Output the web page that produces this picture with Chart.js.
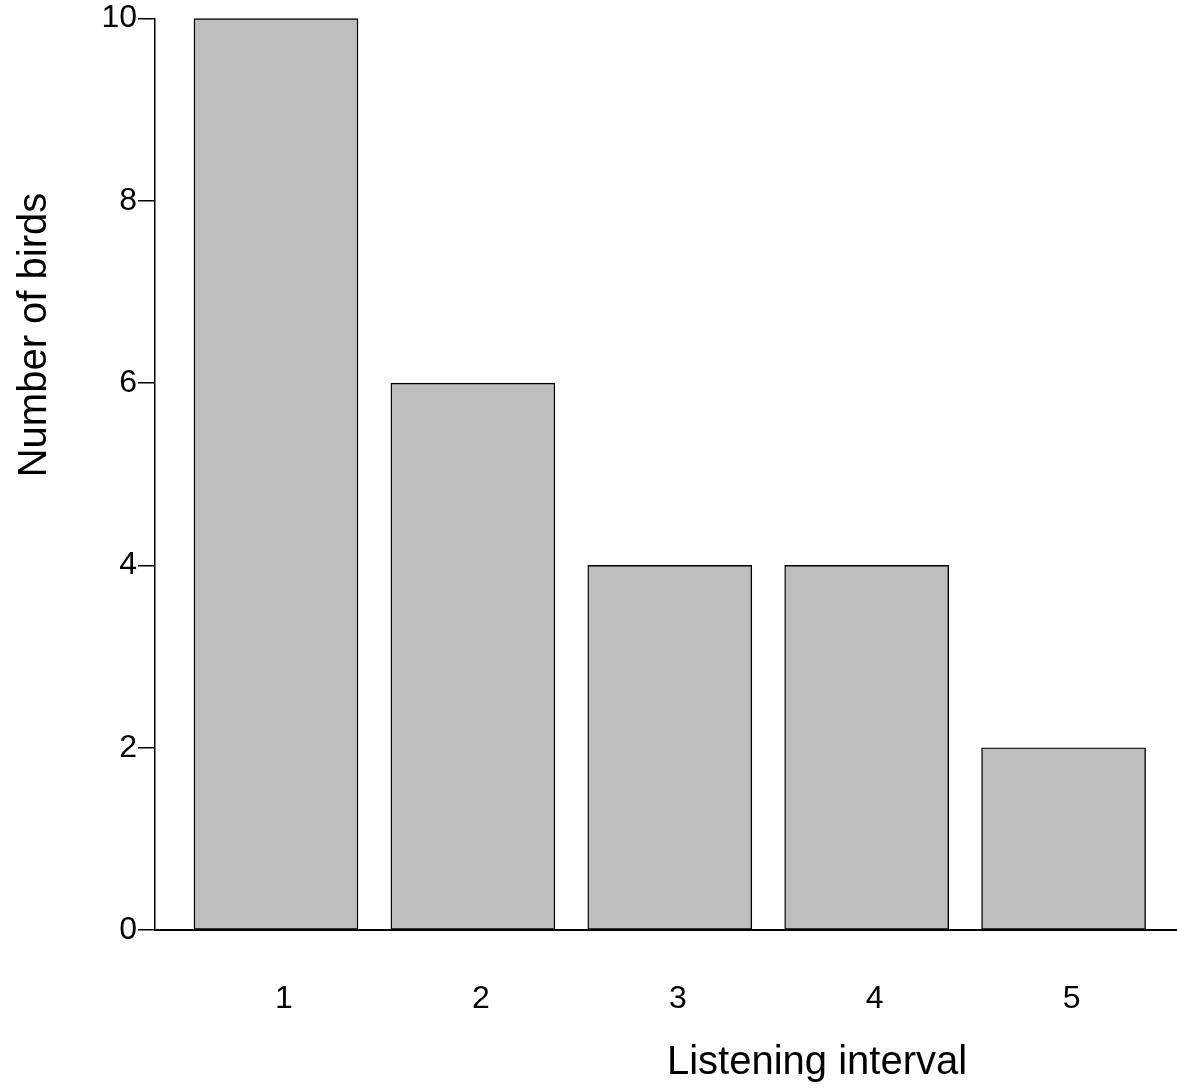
<!DOCTYPE html>
<html>
<head>
<meta charset="utf-8">
<script src="https://cdn.jsdelivr.net/npm/chart.js@4/dist/chart.umd.min.js"></script>
<style>
  body { margin: 0; background: #fff; }
  #wrap { position: relative; width: 1177px; height: 1088px; }
</style>
</head>
<body>
<div id="wrap"><canvas id="grafico" width="1177" height="1088"></canvas></div>
<script>
// datos
const intervals = [1, 2, 3, 4, 5];
const birds = [10, 6, 4, 4, 2];
const yTicks = [0, 2, 4, 6, 8, 10];
const xTitle = "Listening interval";
const yTitle = "Number of birds";

const FONT = "'Liberation Sans', Arial, sans-serif";

// titulos de ejes dibujados a mano (no centrados en el eje, como en el original)
const axisTitles = {
  id: "axisTitles",
  afterDraw(chart) {
    const ctx = chart.ctx;
    ctx.save();
    ctx.fillStyle = "#000";
    ctx.font = "40px " + FONT;
    ctx.textAlign = "center";
    ctx.textBaseline = "middle";
    ctx.fillText(xTitle, 817, 1063);
    ctx.translate(35, 335);
    ctx.rotate(-Math.PI / 2);
    ctx.fillText(yTitle, 0, 0);
    ctx.restore();
  }
};

new Chart(document.getElementById("grafico"), {
  type: "bar",
  data: {
    datasets: [{
      data: intervals.map((v, i) => ({ x: v, y: birds[i] })),
      backgroundColor: "#bebebe",
      borderColor: "#000",
      borderWidth: 1.4,
      borderSkipped: false,
      barThickness: 164,
      clip: false
    }]
  },
  options: {
    responsive: false,
    animation: false,
    layout: { padding: { top: 18, right: 0, left: 0, bottom: 0 } },
    plugins: { legend: { display: false }, tooltip: { enabled: false } },
    scales: {
      x: {
        type: "linear",
        offset: false,
        min: 0.3855,
        max: 5.576,
        afterBuildTicks: s => { s.ticks = intervals.map(v => ({ value: v })); },
        afterFit: s => { s.height = 158; },
        grid: { display: false },
        border: { display: true, color: "#000", width: 2 },
        ticks: {
          color: "#000",
          font: { size: 32, family: FONT },
          padding: 42,
          labelOffset: 8,
          maxRotation: 0,
          callback: v => String(v)
        }
      },
      y: {
        min: 0,
        max: 10,
        afterBuildTicks: s => { s.ticks = yTicks.map(v => ({ value: v })); },
        afterFit: s => { s.width = 155; },
        grid: { drawOnChartArea: false, drawTicks: true, tickLength: 17, color: "#000", lineWidth: 1.5 },
        border: { display: true, color: "#000", width: 1.5 },
        ticks: {
          color: "#000",
          font: { size: 32, family: FONT, lineHeight: 1.1 },
          padding: 1
        }
      }
    }
  },
  plugins: [axisTitles]
});
</script>
</body>
</html>
